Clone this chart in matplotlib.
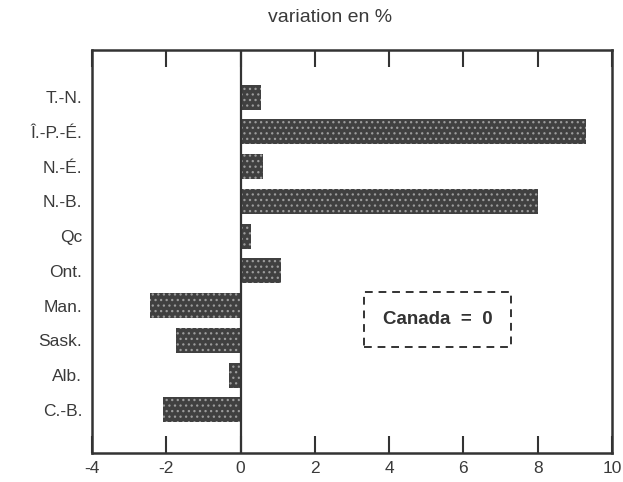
import numpy as np
import matplotlib.pyplot as plt

provinces = ['T.-N.', 'Î.-P.-É.', 'N.-É.', 'N.-B.', 'Qc', 'Ont.',
             'Man.', 'Sask.', 'Alb.', 'C.-B.']
variation = [0.55, 9.3, 0.6, 8.0, 0.27, 1.1, -2.45, -1.75, -0.3, -2.1]
xticks = [-4, -2, 0, 2, 4, 6, 8, 10]

plt.rcParams['font.family'] = ['Liberation Sans', 'DejaVu Sans']
plt.rcParams['hatch.linewidth'] = 0.9
plt.rcParams['hatch.color'] = '#9c9c9c'

fig = plt.figure(figsize=(6.23, 4.82), dpi=100)
ax = fig.add_axes([0.1477, 0.060, 0.8346, 0.836])

ypos = np.arange(len(provinces))
bars = ax.barh(ypos, variation, height=0.72, color='#404040',
               edgecolor='#9c9c9c', linewidth=0, hatch='...')

ax.axvline(0, color='#333333', lw=1.6, zorder=3)

ax.set_xlim(-4, 10)
ax.set_ylim(len(provinces) - 1 + 1.24, -1.35)
ax.set_yticks(ypos)
ax.set_yticklabels(provinces, fontsize=12.5, color='#3a3a3a')
ax.tick_params(axis='y', length=0, pad=7)

ax.set_xticks(xticks)
ax.set_xticklabels([str(t) for t in xticks], fontsize=12.5, color='#3a3a3a')
ax.tick_params(axis='x', direction='in', length=12, width=1.5,
               top=True, color='#333333', pad=6)

for s in ax.spines.values():
    s.set_linewidth(1.8)
    s.set_color('#333333')

ax.text(5.3, 6.4, 'Canada  =  0', ha='center', va='center',
        fontsize=13.5, fontweight='bold', color='#333333',
        bbox=dict(boxstyle='square,pad=1.0', fc='white', ec='#333333',
                  ls=(0, (4, 3)), lw=1.4))

fig.text(0.53, 0.963, 'variation en %', ha='center', va='center',
         fontsize=14, color='#3a3a3a')

fig.savefig('out.png', dpi=100)
